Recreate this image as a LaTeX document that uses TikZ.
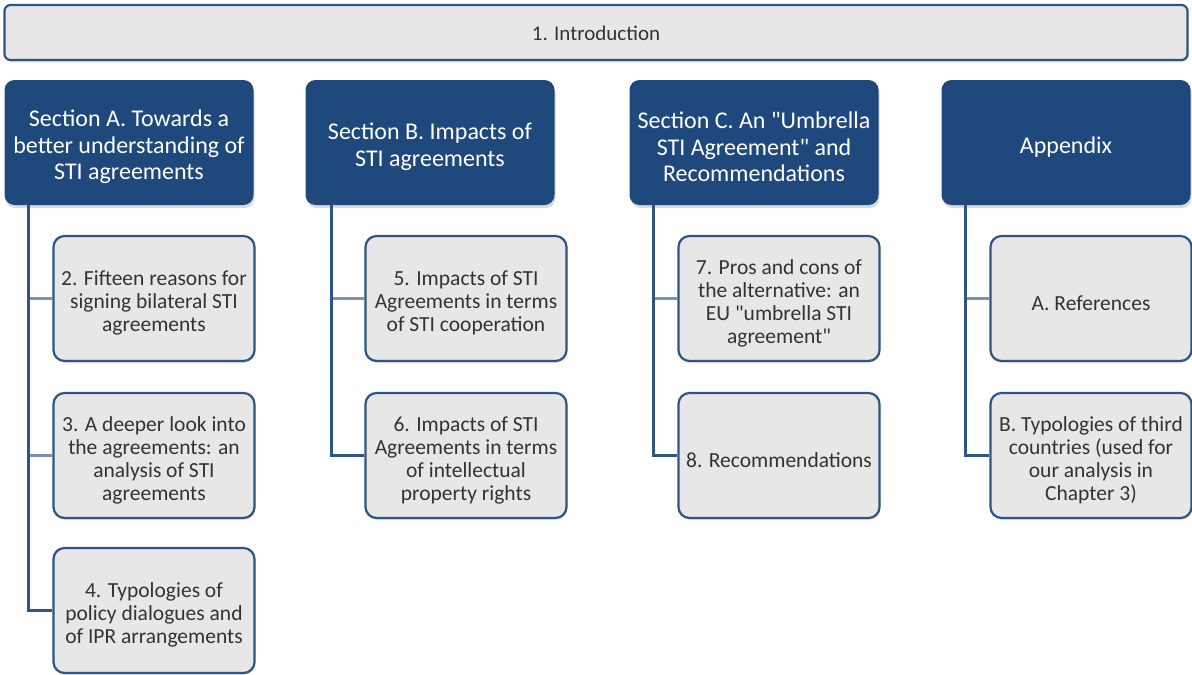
\documentclass[tikz,border=0pt]{standalone}
\usepackage{fontspec}
\setmainfont{Carlito}[Ligatures=TeXOff]
\usetikzlibrary{shadows}
\definecolor{navy}{HTML}{1F497D}
\definecolor{frame}{HTML}{2E5583}
\definecolor{panel}{HTML}{E7E7E7}
\definecolor{twig}{HTML}{7A91AF}
\tikzset{
  bar/.style={draw=frame, line width=2.2pt, fill=panel, rounded corners=6pt,
    minimum width=1183pt, minimum height=55pt, inner sep=0pt,
    drop shadow={shadow xshift=1pt, shadow yshift=-2pt, opacity=0.25}},
  bartext/.style={inner sep=0pt, font=\fontsize{21}{24}\selectfont, text=black!80},
  hdr/.style={fill=navy, rounded corners=10pt, minimum width=249pt, minimum height=125pt,
    inner sep=0pt,
    drop shadow={shadow xshift=1pt, shadow yshift=-3pt, opacity=0.3}},
  hdrtext/.style={inner sep=0pt, align=center, text=white, font=\fontsize{24}{26.5}\selectfont},
  item/.style={draw=frame, line width=2.2pt, fill=panel, rounded corners=11pt,
    minimum width=201pt, minimum height=125pt, inner sep=0pt,
    drop shadow={shadow xshift=1pt, shadow yshift=-2pt, opacity=0.2}},
  itemtext/.style={inner sep=0pt, align=center, text=black!80,
    font=\fontsize{21.5}{23}\selectfont},
  trunk/.style={draw=frame, line width=2.4pt},
  branch/.style={draw=twig, line width=2.4pt},
}
% box #1 with style #2 at #3, its text #5 (style #4) set a little low
\newcommand{\boxed}[5]{%
  \node[#2] (#1) at (#3) {};
  \node[#4] (#1-t) at ([yshift=-4.5pt]#1.center) {#5};}
\begin{document}
\begin{tikzpicture}[x=1pt,y=-1pt]
\useasboundingbox (0,0) rectangle (1192,675);

\node[bar] (intro) at (596,32.5) {};
\node[bartext] (intro-t) at ([yshift=-1pt]intro.center) {1. Introduction};

% section headers
\boxed{A}{hdr}{129,142.5}{hdrtext}{Section A. Towards a\\better understanding of\\STI agreements}
\boxed{B}{hdr}{430,142.5}{hdrtext}{Section B. Impacts of\\STI agreements}
\boxed{C}{hdr}{754,142.5}{hdrtext}{Section C. An "Umbrella\\STI Agreement" and\\Recommendations}
\boxed{D}{hdr}{1066,142.5}{hdrtext}{Appendix}

% chapters under each section
\boxed{a1}{item}{154,298.5}{itemtext}{2. Fifteen reasons for\\signing bilateral STI\\agreements}
\boxed{a2}{item}{154,455.5}{itemtext}{3. A deeper look into\\the agreements: an\\analysis of STI\\agreements}
\boxed{a3}{item}{154,610.5}{itemtext}{4. Typologies of\\policy dialogues and\\of IPR arrangements}

\boxed{b1}{item}{466,298.5}{itemtext}{5. Impacts of STI\\Agreements in terms\\of STI cooperation}
\boxed{b2}{item}{466,455.5}{itemtext}{6. Impacts of STI\\Agreements in terms\\of intellectual\\property rights}

\boxed{c1}{item}{779,298.5}{itemtext}{7. Pros and cons of\\the alternative: an\\EU "umbrella STI\\agreement"}
\boxed{c2}{item}{779,455.5}{itemtext}{8. Recommendations}

\boxed{d1}{item}{1091,298.5}{itemtext}{A. References}
\boxed{d2}{item}{1091,455.5}{itemtext}{B. Typologies of third\\countries (used for\\our analysis in\\Chapter 3)}

% connectors: a trunk down from each header, a branch into each chapter
\coordinate (av) at ([xshift=24pt]A.south west);
\coordinate (bv) at ([xshift=26pt]B.south west);
\coordinate (cv) at ([xshift=24pt]C.south west);
\coordinate (dv) at ([xshift=24pt]D.south west);

\draw[branch] (av |- a1.west) -- (a1.west);
\draw[branch] (av |- a2.west) -- (a2.west);
\draw[trunk] (av) -- (av |- a3.west) -- (a3.west);

\draw[branch] (bv |- b1.west) -- (b1.west);
\draw[trunk] (bv) -- (bv |- b2.west) -- (b2.west);

\draw[branch] (cv |- c1.west) -- (c1.west);
\draw[trunk] (cv) -- (cv |- c2.west) -- (c2.west);

\draw[branch] (dv |- d1.west) -- (d1.west);
\draw[trunk] (dv) -- (dv |- d2.west) -- (d2.west);
\end{tikzpicture}
\end{document}
